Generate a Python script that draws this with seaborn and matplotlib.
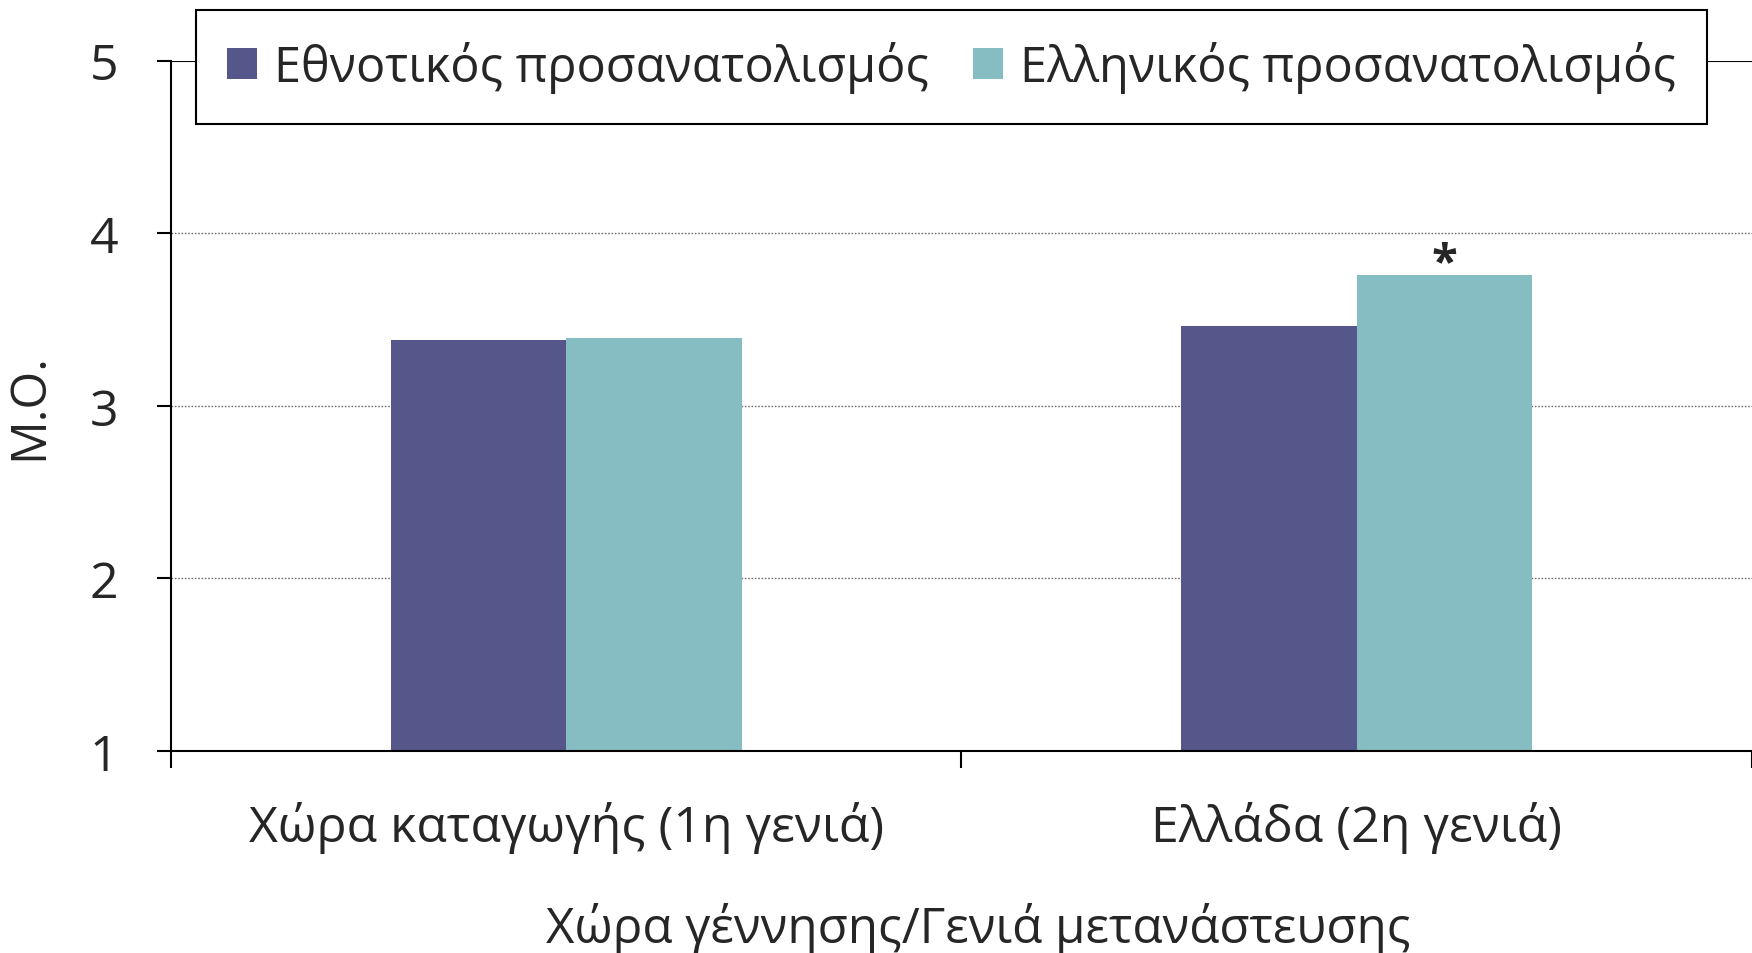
import matplotlib
matplotlib.use("Agg")
import matplotlib.pyplot as plt
import seaborn as sns
import pandas as pd

categories = ["Χώρα καταγωγής (1η γενιά)", "Ελλάδα (2η γενιά)"]
series_names = ["Εθνοτικός προσανατολισμός", "Ελληνικός προσανατολισμός"]
ethnic_values = [3.38, 3.46]
greek_values = [3.39, 3.76]
y_ticks = [1, 2, 3, 4, 5]
x_label = "Χώρα γέννησης/Γενιά μετανάστευσης"
y_label = "Μ.Ο."
colors = ["#55568A", "#86BDC2"]

df = pd.DataFrame({
    "cat": categories * 2,
    "series": [series_names[0]] * 2 + [series_names[1]] * 2,
    "value": ethnic_values + greek_values,
})

sns.set_theme(style="white")
plt.rcParams["font.family"] = ["Open Sans", "DejaVu Sans"]

fig = plt.figure(figsize=(17.52, 9.54), dpi=100)
ax = fig.add_axes([0.0976, 0.2117, 0.9024, 0.7238])

sns.barplot(data=df, x="cat", y="value", hue="series", order=categories,
            hue_order=series_names, palette=colors, width=0.444,
            saturation=1, ax=ax, legend=True, linewidth=0)

ax.set_ylim(1, 5)
ax.set_xlim(-0.5, 1.5)
ax.set_yticks(y_ticks)
ax.set_yticklabels([str(t) for t in y_ticks], fontsize=36)
for t in [2, 3, 4]:
    ax.axhline(t, color="#707070", linestyle=(0, (1.2, 1.2)), linewidth=1.0, zorder=0)
ax.axhline(5, color="black", linewidth=1.5, zorder=0)

ax.set_xticks([0, 1])
ax.set_xticklabels(categories, fontsize=36)
ax.set_xticks([-0.5, 0.5, 1.5], minor=True)
ax.tick_params(axis="x", which="major", bottom=True, length=0, pad=36)
ax.tick_params(axis="x", which="minor", bottom=True, length=12, width=1.5,
               direction="out", color="black")
ax.tick_params(axis="y", which="major", left=True, length=10, width=1.5,
               direction="out", color="black", pad=28)

for s in ["top", "right"]:
    ax.spines[s].set_visible(False)
for s in ["left", "bottom"]:
    ax.spines[s].set_color("black")
    ax.spines[s].set_linewidth(1.5)

ax.set_xlabel(x_label, fontsize=35.5)
ax.xaxis.set_label_coords(0.5106, -0.219)
ax.set_ylabel(y_label, fontsize=35)
ax.yaxis.set_label_coords(-0.074, 0.5)

# significance marker above the second Greek-orientation bar
ax.text(1 + 0.111, 3.75, "*", ha="center", va="baseline", fontsize=34, fontweight="bold")

leg = ax.legend(loc="center", bbox_to_anchor=(0.543, 0.929), bbox_transform=fig.transFigure,
                ncol=2, fontsize=35, frameon=True, fancybox=False, shadow=False,
                handlelength=0.62, handleheight=0.62, handletextpad=0.35,
                columnspacing=0.9, borderpad=0.64)
leg.get_frame().set_edgecolor("black")
leg.get_frame().set_linewidth(1.5)
leg.get_frame().set_alpha(1)

fig.savefig("out.png", dpi=100)
